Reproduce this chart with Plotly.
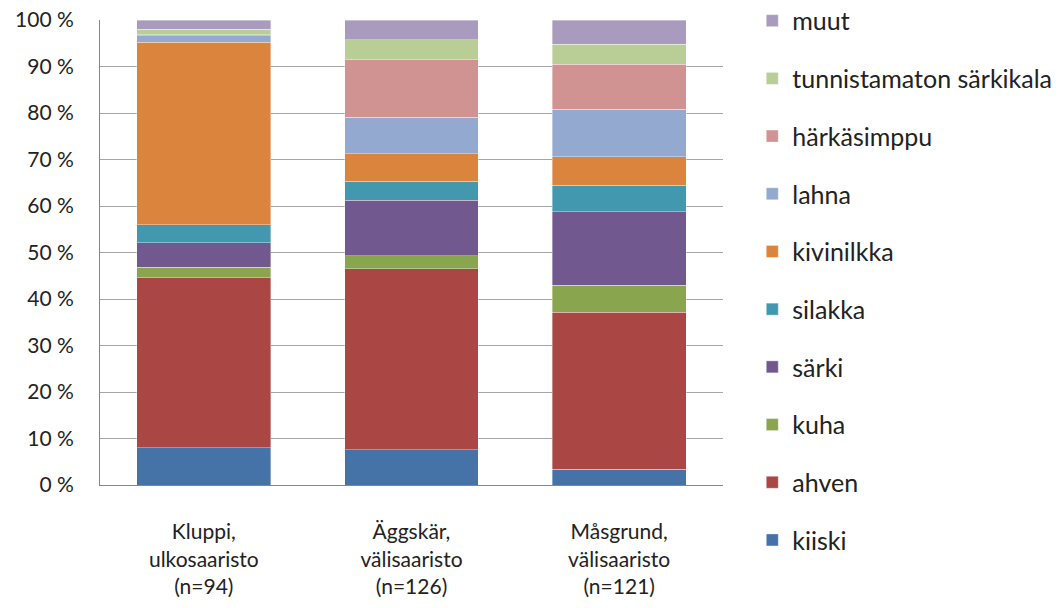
import plotly.graph_objects as go

categories = ["Kluppi,<br>ulkosaaristo<br>(n=94)",
              "Äggskär,<br>välisaaristo<br>(n=126)",
              "Måsgrund,<br>välisaaristo<br>(n=121)"]

species = ["kiiski", "ahven", "kuha", "särki", "silakka", "kivinilkka",
           "lahna", "härkäsimppu", "tunnistamaton särkikala", "muut"]

kiiski = [8.0, 7.6, 3.4]
ahven = [36.6, 38.9, 33.8]
kuha = [2.2, 2.8, 5.8]
sarki = [5.3, 11.9, 15.8]
silakka = [3.9, 4.1, 5.7]
kivinilkka = [39.2, 5.9, 6.1]
lahna = [1.4, 7.9, 10.2]
harkasimppu = [0.2, 12.4, 9.7]
tunnistamaton = [1.2, 4.3, 4.3]
muut = [2.0, 4.2, 5.2]

series = [kiiski, ahven, kuha, sarki, silakka, kivinilkka, lahna,
          harkasimppu, tunnistamaton, muut]

tick_values = list(range(0, 101, 10))
tick_labels = [f"{v} %" for v in tick_values]

colors = ["#4572A7", "#AA4643", "#89A54E", "#71588F", "#4198AF",
          "#DB843D", "#93A9CF", "#D19392", "#B9CD96", "#A99BBD"]

FONT = "Lato, Carlito, Calibri, sans-serif"
TXT = "#222222"

fig = go.Figure()
for i, (name, vals, col) in enumerate(zip(species, series, colors)):
    fig.add_trace(go.Bar(
        x=categories, y=vals, name=name, legendgroup=name,
        legendrank=len(species) - i,
        marker=dict(color=col, line=dict(width=0.6, color="rgba(255,255,255,0.6)")),
    ))

fig.update_layout(
    width=1059, height=608,
    barmode="stack", bargap=0.355,
    plot_bgcolor="white", paper_bgcolor="white",
    margin=dict(l=100, r=336, t=20, b=123, autoexpand=False),
    font=dict(family=FONT, size=21, color=TXT),
    legend=dict(
        x=1.047, xanchor="left", y=1.0475, yanchor="top",
        traceorder="grouped", tracegroupgap=22.2, maxheight=600,
        font=dict(family=FONT, size=25, color=TXT),
        bgcolor="rgba(0,0,0,0)",
    ),
    showlegend=True,
)

fig.update_yaxes(
    range=[0, 100], tickmode="array", tickvals=tick_values, ticktext=tick_labels,
    showgrid=True, gridcolor="#A6A6A6", gridwidth=1,
    showline=True, linecolor="#868686", linewidth=1,
    ticks="", ticklabelstandoff=21, zeroline=False, automargin=False,
    tickfont=dict(family=FONT, size=21, color=TXT),
)
fig.update_xaxes(
    showline=True, linecolor="#868686", linewidth=1,
    ticks="", ticklabelstandoff=28, automargin=False,
    tickfont=dict(family=FONT, size=21, color=TXT),
)

fig.write_html("out.html", config={"displayModeBar": False},
               post_script="document.body.style.margin='0';")
